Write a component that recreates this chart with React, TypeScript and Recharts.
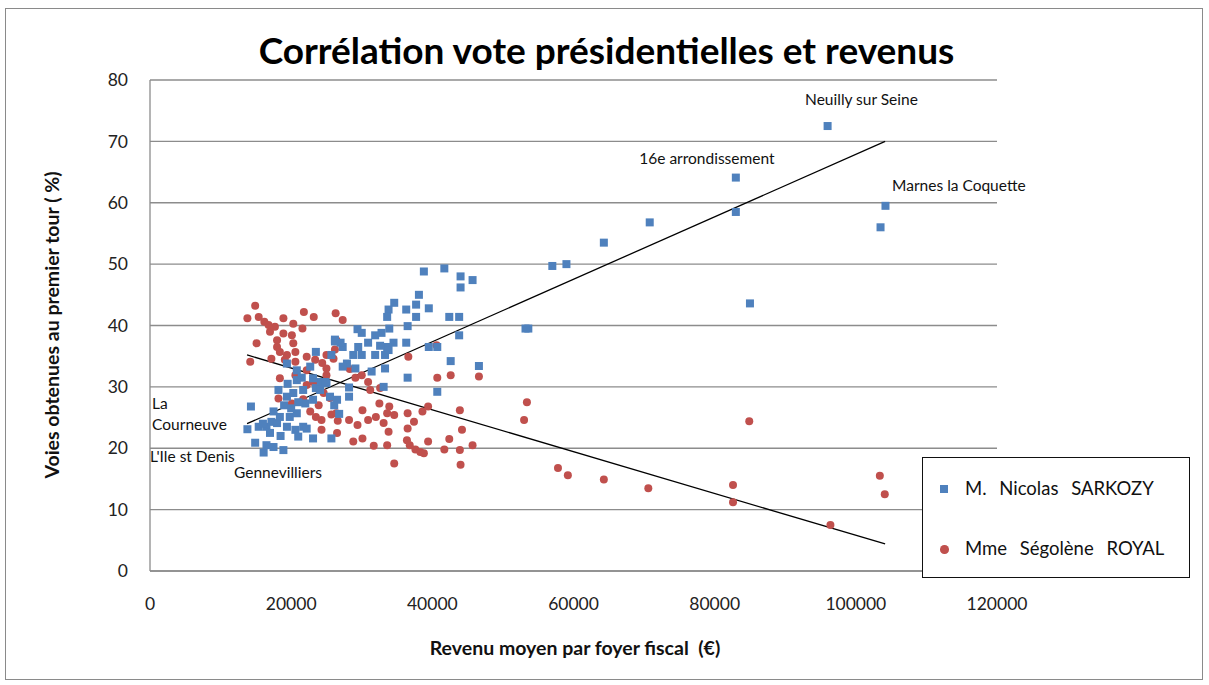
import React from 'react';
import { ScatterChart, Scatter, XAxis, YAxis, CartesianGrid } from 'recharts';

const xTicks = [0, 20000, 40000, 60000, 80000, 100000, 120000];
const yTicks = [0, 10, 20, 30, 40, 50, 60, 70, 80];

// [revenu moyen, % voix]
const sarkozyPoints: [number, number][] = [
  [96000, 72.5], [83000, 64.1], [83000, 58.5], [104200, 59.5], [103500, 56.0], [85000, 43.6],
  [70800, 56.8], [64300, 53.5], [59000, 50.0], [57000, 49.7], [53600, 39.5], [53200, 39.5],
  [38800, 48.8], [41700, 49.3], [44000, 48.0], [45700, 47.4], [44000, 46.2], [38100, 45.0],
  [34600, 43.7], [33800, 42.6], [33600, 41.4], [36300, 42.6], [37700, 43.4], [37700, 41.4],
  [39500, 42.8], [42400, 41.4], [43800, 41.4], [43800, 38.4], [40700, 36.5], [39500, 36.5],
  [42600, 34.2], [46600, 33.4], [36500, 39.9], [33900, 39.5], [32800, 38.8], [31900, 38.4],
  [29400, 39.4], [30000, 38.8], [34500, 37.2], [33600, 36.5], [32600, 36.7], [36300, 37.2],
  [30900, 37.2], [29500, 36.5], [27300, 36.5], [27000, 37.2], [26200, 37.7], [28800, 35.2],
  [30000, 35.2], [31900, 35.2], [33300, 35.2], [33800, 36.0], [27900, 33.8], [27300, 33.3],
  [29100, 33.0], [31400, 32.5], [33300, 33.0], [36500, 31.5], [33100, 30.0], [40700, 29.2],
  [28200, 29.9], [28200, 28.4], [23500, 35.7], [23500, 29.8], [26100, 27.0], [26800, 25.6],
  [21700, 23.5], [23100, 21.6], [25700, 21.6], [24200, 30.8], [25000, 30.6], [22000, 27.3],
  [23100, 27.9], [14300, 26.8], [13800, 23.1], [14900, 20.9], [16100, 19.3], [16500, 20.5],
  [17500, 20.2], [18900, 19.7], [15400, 23.5], [16500, 23.5], [17200, 24.3], [18000, 24.1],
  [18200, 29.5], [19400, 28.4], [20300, 29.0], [21700, 29.5], [18400, 25.1], [19800, 25.1],
  [20800, 25.7], [19400, 23.5], [20600, 23.0], [21000, 21.9], [22200, 23.2], [24100, 29.5],
  [24800, 30.8], [25500, 28.4], [26500, 27.9], [25700, 35.2], [26200, 37.4], [19400, 33.8],
  [20800, 32.7], [22700, 33.3], [23100, 31.4], [20800, 31.1], [16000, 24.0], [17000, 22.5],
  [18500, 22.0], [19000, 27.0], [20000, 26.5], [21000, 27.5], [19500, 30.5], [21500, 31.5],
  [17500, 26.0],
];

const royalPoints: [number, number][] = [
  [14900, 43.2], [13800, 41.2], [15400, 41.4], [16200, 40.6], [16800, 40.1], [17700, 39.8],
  [18900, 41.2], [20300, 40.3], [21800, 42.2], [23200, 41.4], [26300, 42.0], [17000, 39.0],
  [18000, 37.6], [18900, 38.7], [20100, 38.4], [20300, 37.1], [15100, 37.1], [18000, 36.5],
  [18400, 35.7], [19400, 35.2], [20600, 35.7], [14200, 34.1], [17200, 34.6], [19100, 34.4],
  [20600, 34.1], [22200, 34.9], [23400, 34.4], [24400, 33.9], [25000, 35.2], [18400, 31.4],
  [20600, 31.9], [22200, 32.7], [23100, 30.8], [18200, 28.1], [20100, 27.3], [21700, 28.0],
  [23900, 27.0], [25500, 28.2], [22700, 26.0], [24300, 24.6], [25700, 25.5], [24300, 23.0],
  [26600, 24.5], [27300, 40.9], [21600, 39.5], [26400, 37.6], [26200, 36.1], [26000, 34.6],
  [25000, 33.0], [28300, 32.9], [30000, 31.9], [29100, 31.5], [30900, 30.8], [31200, 29.5],
  [32600, 29.8], [36600, 34.9], [40600, 36.8], [40700, 31.5], [42600, 31.9], [46600, 31.7],
  [22200, 30.3], [23900, 30.8], [25000, 31.9], [24600, 29.0], [26400, 25.7], [23500, 25.1],
  [26500, 22.5], [28200, 24.6], [29400, 23.8], [30100, 26.2], [30900, 24.6], [32000, 25.1],
  [32500, 27.3], [33600, 25.7], [33900, 26.8], [34600, 25.4], [33100, 24.1], [33800, 22.7],
  [36500, 25.7], [37400, 24.3], [36500, 23.2], [38600, 26.0], [39400, 26.8], [43900, 26.2],
  [28800, 21.1], [30100, 21.6], [31700, 20.4], [33600, 20.5], [36400, 21.3], [36800, 20.5],
  [37600, 19.8], [38300, 19.4], [38800, 19.2], [39400, 21.1], [41700, 19.8], [42400, 21.5],
  [43900, 19.7], [44200, 23.0], [45700, 20.5], [34600, 17.5], [44000, 17.3],
  [53400, 27.5], [53000, 24.6], [57800, 16.8], [59200, 15.6], [64300, 14.9], [70600, 13.5],
  [82600, 14.0], [82600, 11.2], [84900, 24.4], [96400, 7.5], [103400, 15.5], [104100, 12.5],
];

// linear trend lines (start / end)
const sarkozyTrend: [number, number][] = [[13750, 24.0], [104150, 70.0]];
const royalTrend: [number, number][] = [[13750, 35.2], [104150, 4.4]];

const annotations: { x: number; y: number; text: string; anchor: string }[] = [
  { x: 100800, y: 76.5, text: 'Neuilly sur Seine', anchor: 'middle' },
  { x: 78900, y: 67.0, text: '16e arrondissement', anchor: 'middle' },
  { x: 114600, y: 62.6, text: 'Marnes la Coquette', anchor: 'middle' },
  { x: 300, y: 27.0, text: 'La', anchor: 'start' },
  { x: 300, y: 23.6, text: 'Courneuve', anchor: 'start' },
  { x: 0, y: 18.4, text: "L'Ile st Denis", anchor: 'start' },
  { x: 11900, y: 15.8, text: 'Gennevilliers', anchor: 'start' },
];

const BLUE = '#4F81BD';
const RED = '#C0504D';
const FONT = 'Lato, "Open Sans", sans-serif';

const toObj = (arr: [number, number][]) => arr.map(([x, y]) => ({ x, y }));

const Square = (p: any) => <rect x={p.cx - 4} y={p.cy - 4} width={8} height={8} fill={BLUE} />;
const Dot = (p: any) => <circle cx={p.cx} cy={p.cy} r={4} fill={RED} />;
const Empty = () => <g />;
const Annot = (p: any) => (
  <text x={p.cx} y={p.cy} textAnchor={p.payload.anchor} dominantBaseline="middle" fontSize={15.5} fill="#111" fontFamily={FONT}>
    {p.payload.text}
  </text>
);

export default function App() {
  const W = 1209;
  const H = 685;
  return (
    <div style={{ position: 'absolute', left: 0, top: 0, width: W, height: H, background: '#fff', fontFamily: FONT, overflow: 'hidden' }}>
      <div style={{ position: 'absolute', left: 5, top: 8, width: 1196, height: 670, border: '1px solid #8a8a8a' }} />
      <div style={{ position: 'absolute', left: 0, top: 27, width: 1213, textAlign: 'center', fontSize: 37, fontWeight: 700, color: '#000', lineHeight: '46px' }}>
        Corrélation vote présidentielles et revenus
      </div>
      <div style={{ position: 'absolute', left: 0, top: 0 }}>
        <ScatterChart width={W} height={H} margin={{ top: 80, right: 212, bottom: 84, left: 90 }}>
          <CartesianGrid horizontal vertical={false} stroke="#8c8c8c" strokeWidth={1.3} />
          <XAxis
            type="number"
            dataKey="x"
            domain={[0, 120000]}
            ticks={xTicks}
            height={30}
            tickLine={false}
            tickSize={6}
            tickMargin={21}
            axisLine={{ stroke: '#8c8c8c', strokeWidth: 1.3 }}
            tick={{ fontSize: 17.5, fill: '#222', fontFamily: FONT }}
            interval={0}
          />
          <YAxis
            type="number"
            dataKey="y"
            domain={[0, 80]}
            ticks={yTicks}
            width={60}
            tickLine={false}
            tickSize={6}
            tickMargin={16}
            axisLine={{ stroke: '#8c8c8c', strokeWidth: 1.3 }}
            tick={{ fontSize: 17.5, fill: '#222', fontFamily: FONT }}
            interval={0}
          />
          <Scatter data={toObj(royalTrend)} line={{ stroke: '#000', strokeWidth: 1.3 }} shape={Empty} isAnimationActive={false} />
          <Scatter data={toObj(sarkozyTrend)} line={{ stroke: '#000', strokeWidth: 1.3 }} shape={Empty} isAnimationActive={false} />
          <Scatter data={toObj(royalPoints)} shape={Dot} isAnimationActive={false} />
          <Scatter data={toObj(sarkozyPoints)} shape={Square} isAnimationActive={false} />
          <Scatter data={annotations} shape={Annot} isAnimationActive={false} />
        </ScatterChart>
      </div>
      <div style={{ position: 'absolute', left: 0, top: 635, width: 1150, textAlign: 'center', fontSize: 19.5, fontWeight: 700, color: '#111', whiteSpace: 'pre', lineHeight: '26px' }}>
        {'Revenu moyen par foyer fiscal  (€)'}
      </div>
      <div style={{ position: 'absolute', left: 52, top: 325, width: 0, height: 0 }}>
        <div style={{ position: 'absolute', left: -200, top: -13, width: 400, textAlign: 'center', fontSize: 19.5, fontWeight: 700, color: '#111', transform: 'rotate(-90deg)', lineHeight: '26px', whiteSpace: 'nowrap' }}>
          Voies obtenues au premier tour ( %)
        </div>
      </div>
      <div style={{ position: 'absolute', left: 922, top: 457, width: 268, height: 121, boxSizing: 'border-box', border: '1.5px solid #111', background: '#fff' }}>
        <div style={{ position: 'absolute', left: 17, top: 27, width: 8, height: 8, background: BLUE }} />
        <div style={{ position: 'absolute', left: 42, top: 17, fontSize: 18.5, color: '#111', lineHeight: '26px', wordSpacing: 8, whiteSpace: 'nowrap' }}>
          M. Nicolas SARKOZY
        </div>
        <div style={{ position: 'absolute', left: 17, top: 87, width: 8.5, height: 8.5, borderRadius: '50%', background: RED }} />
        <div style={{ position: 'absolute', left: 42, top: 77, fontSize: 18.5, color: '#111', lineHeight: '26px', wordSpacing: 8, whiteSpace: 'nowrap' }}>
          Mme Ségolène ROYAL
        </div>
      </div>
    </div>
  );
}
